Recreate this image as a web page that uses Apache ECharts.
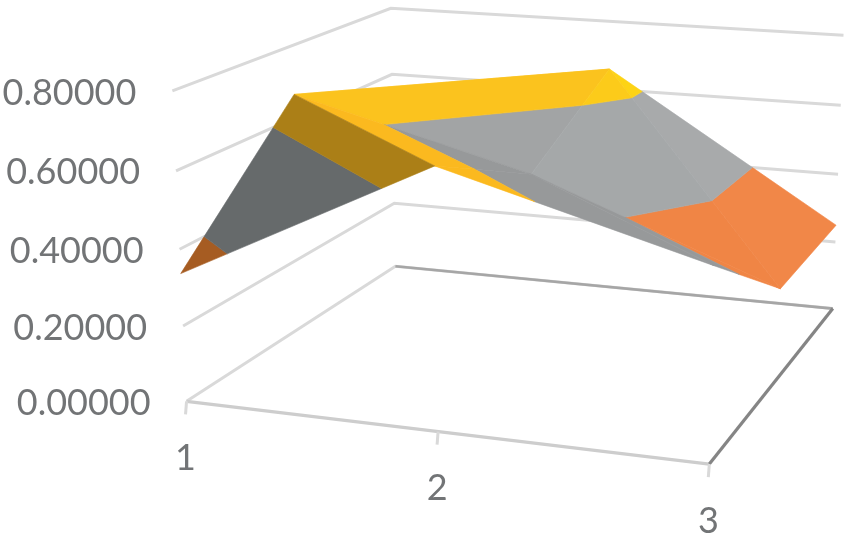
<!DOCTYPE html>
<html><head><meta charset="utf-8">
<style>html,body{margin:0;padding:0;background:#fff}#c{width:850px;height:546px}</style>
<script src="https://cdn.jsdelivr.net/npm/echarts@6/dist/echarts.min.js"></script>
</head><body><div id="c"></div>
<script>
// ---- data ----
const categories = ['1', '2', '3'];
const valueTicks = [0, 0.2, 0.4, 0.6, 0.8];
const seriesFront = [0.337, 0.666, 0.485];
const seriesMiddle = [0.665, 0.496, 0.245];
const seriesBack = [0.50, 0.66, 0.25];

// ---- camera: [category 0..1, depth 0..1, value] seen at [x, y] ----
const cameraAnchors = [
  [[0,0,0],[187,400]],[[1,0,0],[710,464]],[[1,1,0],[832,309]],[[0,1,0],[395,267]],
  [[0,0,0.2],[182,326]],[[0,0,0.4],[179,250]],[[0,0,0.6],[176,171]],[[0,0,0.8],[173,91.5]],
  [[0,1,0.2],[395,203]],[[0,1,0.6],[393,74]],[[0,1,0.8],[390,8]],
  [[1,1,0.2],[836,242]],[[1,1,0.4],[838,174.5]],[[1,1,0.6],[841,105]],[[1,1,0.8],[843,35]]
];
function solve(A,b){const n=b.length,M=A.map((r,i)=>r.concat(b[i]));
  for(let i=0;i<n;i++){let m=i;for(let k=i+1;k<n;k++)if(Math.abs(M[k][i])>Math.abs(M[m][i]))m=k;
    [M[i],M[m]]=[M[m],M[i]];
    for(let k=0;k<n;k++)if(k!==i){const f=M[k][i]/M[i][i];for(let j=i;j<=n;j++)M[k][j]-=f*M[i][j];}}
  return M.map((r,i)=>r[n]/r[i]);}
function fitCamera(){const rows=[],rhs=[];
  cameraAnchors.forEach(([[X,Y,Z],[x,y]])=>{
    rows.push([X,Y,Z,1,0,0,0,0,-x*X,-x*Y,-x*Z]);rhs.push(x);
    rows.push([0,0,0,0,X,Y,Z,1,-y*X,-y*Y,-y*Z]);rhs.push(y);});
  const n=11,A=[],b=[];
  for(let i=0;i<n;i++){A.push([]);let s=0;
    for(let j=0;j<n;j++){let t=0;rows.forEach(r=>t+=r[i]*r[j]);A[i].push(t);}
    rows.forEach((r,k)=>s+=r[i]*rhs[k]);b.push(s);}
  return solve(A,b);}
const cam=fitCamera();
function project(p){const [X,Y,Z]=p,w=cam[8]*X+cam[9]*Y+cam[10]*Z+1;
  return [(cam[0]*X+cam[1]*Y+cam[2]*Z+cam[3])/w,(cam[4]*X+cam[5]*Y+cam[6]*Z+cam[7])/w];}

// ---- surface ----
const rows=[seriesFront,seriesMiddle,seriesBack];
const vert=(c,r)=>[c/(categories.length-1),r/(rows.length-1),rows[r][c]];
// colours by value band: [0-.2, .2-.4, .4-.6, .6-.8] for each lighting tone
const tones={
  under:['#3f6a9c','#A65C22','#666A6B','#AB7F17'],
  graze:['#5b9bd5','#F08545','#97999A','#FBB91F'],
  mid:  ['#5b9bd5','#F08545','#A2A4A5','#FBC31E'],
  lit:  ['#5b9bd5','#F08545','#A5A8A9','#FCCB1A'],
  far:  ['#5b9bd5','#F18748','#A8AAAB','#FDD315']
};
const faces=[
  {t:[[0,1],[1,2],[0,2]],tone:'mid'},
  {t:[[1,2],[2,2],[2,1]],tone:'far'},
  {t:[[0,1],[1,1],[1,2]],tone:'mid'},
  {t:[[1,1],[1,2],[2,1]],tone:'lit'},
  {t:[[0,1],[1,0],[1,1]],tone:'graze'},
  {t:[[1,0],[1,1],[2,0]],tone:'graze'},
  {t:[[1,1],[2,0],[2,1]],tone:'graze'},
  {t:[[0,0],[0,1],[1,0]],tone:'under'}
];
function clip(poly,limit,keepAbove){const out=[];
  for(let i=0;i<poly.length;i++){const a=poly[i],b=poly[(i+1)%poly.length];
    const ia=keepAbove?a[2]>=limit:a[2]<=limit, ib=keepAbove?b[2]>=limit:b[2]<=limit;
    if(ia)out.push(a);
    if(ia!==ib){const t=(limit-a[2])/(b[2]-a[2]);out.push([a[0]+t*(b[0]-a[0]),a[1]+t*(b[1]-a[1]),limit]);}}
  return out;}
const pieces=[];
faces.forEach(f=>{const tri=f.t.map(([c,r])=>vert(c,r));
  for(let b=0;b<valueTicks.length-1;b++){
    let p=clip(clip(tri,valueTicks[b],true),valueTicks[b+1],false);
    if(p.length>=3)pieces.push({poly:p.map(project),color:tones[f.tone][b]});}});

// ---- frame ----
const frame=[];
valueTicks.forEach((v,i)=>frame.push({pts:[[0,0,v],[0,1,v],[1,1,v]].map(project),color:'#D9D9D9',w:3}));
frame.push({pts:[[0,1,0],[1,1,0]].map(project),color:'#A6A6A6',w:2.6});
frame.push({pts:[[0,0,0],[1,0,0]].map(project),color:'#CDCDCD',w:3.2});
frame.push({pts:[[1,0,0],[1,1,0]].map(project),color:'#858585',w:3.2});
categories.forEach((c,i)=>{const a=project([i/(categories.length-1),0,0]);
  frame.push({pts:[a,[a[0]-1,a[1]+13]],color:'#D9D9D9',w:3});});

const labels=[];
valueTicks.forEach(v=>{const a=project([0,0,v]);
  labels.push({text:v.toFixed(5),x:a[0]-36,y:a[1]+2,align:'right'});});
categories.forEach((c,i)=>{const a=project([i/(categories.length-1),0,0]);
  labels.push({text:c,x:a[0]-1,y:a[1]+57,align:'center'});});

const chart=echarts.init(document.getElementById('c'),null,{renderer:'canvas'});
const xy=(api,p)=>api.coord(p);
chart.setOption({
  animation:false,backgroundColor:'#ffffff',
  grid:{left:0,right:0,top:0,bottom:0},
  xAxis:{type:'value',min:0,max:850,show:false},
  yAxis:{type:'value',min:0,max:546,inverse:true,show:false},
  series:[
    {type:'custom',name:'frame',silent:true,clip:false,z:1,data:frame.map((f,i)=>[i]),
     renderItem:(p,api)=>{const f=frame[api.value(0)];
       return {type:'polyline',shape:{points:f.pts.map(q=>xy(api,q))},
         style:{stroke:f.color,lineWidth:f.w,fill:null}};}},
    {type:'custom',name:'surface',silent:true,clip:false,z:2,data:pieces.map((f,i)=>[i]),
     renderItem:(p,api)=>{const f=pieces[api.value(0)];
       return {type:'polygon',shape:{points:f.poly.map(q=>xy(api,q))},
         style:{fill:f.color,stroke:f.color,lineWidth:0.6}};}},
    {type:'custom',name:'labels',silent:true,clip:false,z:3,data:labels.map((f,i)=>[i]),
     renderItem:(p,api)=>{const f=labels[api.value(0)],q=xy(api,[f.x,f.y]);
       return {type:'text',style:{text:f.text,x:q[0],y:q[1],align:f.align,verticalAlign:'middle',
         fill:'#727476',fontFamily:'Lato',fontSize:36}};}}
  ]
});
</script></body></html>
